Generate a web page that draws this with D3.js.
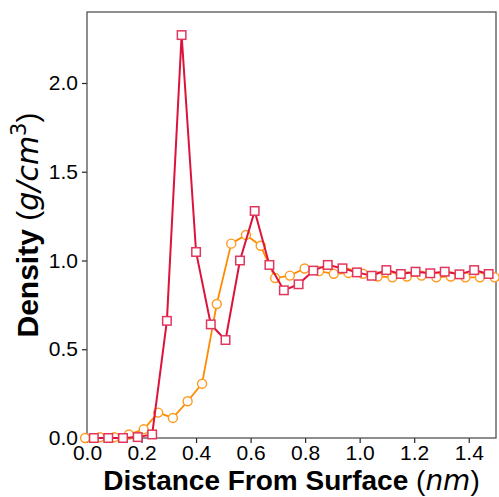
<!DOCTYPE html>
<html>
<head>
<meta charset="utf-8">
<script src="https://cdn.jsdelivr.net/npm/d3@7"></script>
<style>
  body { margin: 0; background: #fff; }
  svg { display: block; }
  text { font-family: "Liberation Sans", Arial, Helvetica, sans-serif; }
  .math { font-family: "DejaVu Sans", sans-serif; font-style: italic; }
</style>
</head>
<body>
<svg id="chart" width="499" height="497"></svg>
<script>
// ---- data ----
const squareX = [0.025, 0.078, 0.132, 0.186, 0.239, 0.293, 0.347, 0.400, 0.454, 0.508,
                 0.561, 0.615, 0.669, 0.722, 0.776, 0.830, 0.883, 0.937, 0.990, 1.044,
                 1.098, 1.151, 1.205, 1.259, 1.312, 1.366, 1.420, 1.473];
const squareY = [0.0, 0.0, 0.0, 0.005, 0.02, 0.66, 2.27, 1.048, 0.64, 0.552,
                 1.0, 1.279, 0.975, 0.832, 0.866, 0.943, 0.975, 0.956, 0.933, 0.914,
                 0.946, 0.924, 0.937, 0.928, 0.937, 0.922, 0.946, 0.924];
const circleX = [-0.007, 0.047, 0.100, 0.154, 0.208, 0.261, 0.315, 0.369, 0.422, 0.476,
                 0.529, 0.583, 0.637, 0.690, 0.744, 0.798, 0.851, 0.905, 0.959, 1.012,
                 1.066, 1.120, 1.173, 1.227, 1.281, 1.334, 1.388, 1.441, 1.495];
const circleY = [0.0, 0.004, 0.004, 0.02, 0.049, 0.143, 0.113, 0.207, 0.306, 0.755,
                 1.095, 1.144, 1.083, 0.901, 0.915, 0.955, 0.94, 0.925, 0.93, 0.925,
                 0.91, 0.905, 0.91, 0.915, 0.905, 0.91, 0.905, 0.905, 0.905];
const xTicks = [0.0, 0.2, 0.4, 0.6, 0.8, 1.0, 1.2, 1.4];
const yTicks = [0.0, 0.5, 1.0, 1.5, 2.0];
const xDomain = [0, 1.5];
const yDomain = [0, 2.4];

(function () {
// ---- layout ----
const pl = 87, pr = 496, pt = 12, pb = 438;
const svg = d3.select("#chart");
const x = d3.scaleLinear().domain(xDomain).range([pl, pr]);
const y = d3.scaleLinear().domain(yDomain).range([pb, pt]);

// axes
const xAxis = d3.axisBottom(x).tickValues(xTicks).tickFormat(d3.format(".1f")).tickSize(5).tickPadding(2);
const yAxis = d3.axisLeft(y).tickValues(yTicks).tickFormat(d3.format(".1f")).tickSize(5).tickPadding(4);

const gx = svg.append("g").attr("transform", `translate(0,${pb})`).call(xAxis);
const gy = svg.append("g").attr("transform", `translate(${pl},0)`).call(yAxis);
[gx, gy].forEach(g => {
  g.select(".domain").remove();
  g.selectAll(".tick line").attr("stroke", "#222").attr("stroke-width", 1.2);
  g.selectAll(".tick text").attr("fill", "#000").style("font-size", "21px")
    .style("font-family", "'Liberation Sans', Arial, sans-serif");
});

// frame
svg.append("rect")
  .attr("x", pl).attr("y", pt)
  .attr("width", pr - pl).attr("height", pb - pt)
  .attr("fill", "none").attr("stroke", "#444").attr("stroke-width", 1.2);

const line = d3.line().x(d => x(d[0])).y(d => y(d[1]));
const circ = circleX.map((v, i) => [v, circleY[i]]);
const sq = squareX.map((v, i) => [v, squareY[i]]);

// series: orange circles
svg.append("path").datum(circ).attr("d", line)
  .attr("fill", "none").attr("stroke", "#ff8c00").attr("stroke-width", 1.8);
svg.append("g").selectAll("circle").data(circ).join("circle")
  .attr("cx", d => x(d[0])).attr("cy", d => y(d[1])).attr("r", 4.5)
  .attr("fill", "#fff").attr("stroke", "#ff9a1f").attr("stroke-width", 1.4);

// series: red squares
svg.append("path").datum(sq).attr("d", line)
  .attr("fill", "none").attr("stroke", "#dc143c").attr("stroke-width", 2);
const s = 8.5;
svg.append("g").selectAll("rect").data(sq).join("rect")
  .attr("x", d => x(d[0]) - s / 2).attr("y", d => y(d[1]) - s / 2)
  .attr("width", s).attr("height", s)
  .attr("fill", "#fff").attr("stroke", "#e2365e").attr("stroke-width", 1.5);

// axis titles
const xt = svg.append("text")
  .attr("x", 291.5).attr("y", 490)
  .attr("text-anchor", "middle")
  .style("font-size", "28px").attr("fill", "#000");
xt.append("tspan").style("font-weight", "bold").text("Distance From Surface ");
xt.append("tspan").text("(");
xt.append("tspan").attr("class", "math").text("nm");
xt.append("tspan").text(")");

const yt = svg.append("text")
  .attr("transform", `translate(38,225) rotate(-90)`)
  .attr("text-anchor", "middle")
  .style("font-size", "30px").attr("fill", "#000");
yt.append("tspan").style("font-weight", "bold").text("Density ");
yt.append("tspan").text("(");
yt.append("tspan").attr("class", "math").text("g/cm");
yt.append("tspan").attr("class", "math").style("font-style", "normal").style("font-size", "21px").attr("dy", "-12").text("3");
yt.append("tspan").attr("dy", "12").text(")");
})();
</script>
</body>
</html>
